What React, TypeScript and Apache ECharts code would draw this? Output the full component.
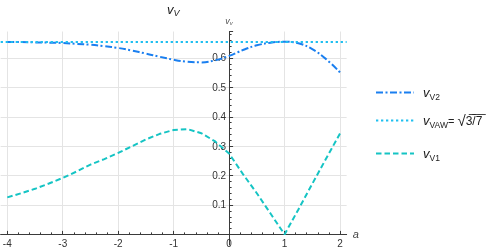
import React, { useEffect, useRef } from 'react';
import * as echarts from 'echarts';

// ---- data ----
const aValues = [-4, -3.75, -3.5, -3.25, -3, -2.75, -2.5, -2.25, -2, -1.75, -1.5, -1.25, -1, -0.75, -0.5, -0.25, 0, 0.25, 0.5, 0.75, 1, 1.25, 1.5, 1.75, 2];
const vV1 = [0.126, 0.14, 0.155, 0.173, 0.192, 0.214, 0.2375, 0.256, 0.277, 0.3, 0.323, 0.342, 0.355, 0.358, 0.344, 0.316, 0.275, 0.205, 0.14, 0.07, 0.0, 0.085, 0.172, 0.258, 0.343];
const vV2 = [0.654, 0.654, 0.653, 0.652, 0.651, 0.648, 0.645, 0.64, 0.634, 0.625, 0.615, 0.604, 0.594, 0.587, 0.585, 0.592, 0.607, 0.627, 0.643, 0.652, 0.655, 0.65, 0.63, 0.596, 0.551];
const vVAWValue = 0.6547;
const vVAWRange = [-4.12, 2.12];
const xTickLabels = ['-4', '-3', '-2', '-1', '0', '1', '2'];
const yTickLabels = ['0.1', '0.2', '0.3', '0.4', '0.5', '0.6'];

const FONT = 'Liberation Sans, Arial, sans-serif';
const C_V2 = '#1a7ff0';
const C_VAW = '#1ebff0';
const C_V1 = '#15c4c4';
const AXIS = '#3a3a3a';
const GRID = '#e4e4e4';

export default function App() {
  const ref = useRef<HTMLDivElement>(null);
  useEffect(() => {
    if (!ref.current) return;
    const chart = echarts.init(ref.current, null, { renderer: 'svg' });
    const gridTop = 31.5;
    const gridBottom = 15.6;
    const zeroX = 229.1;
    const subRich = {
      v: { fontFamily: FONT, fontSize: 13, fontStyle: 'italic', fontWeight: 'normal', color: '#222', verticalAlign: 'middle', lineHeight: 18 },
      s: { fontFamily: FONT, fontSize: 8.5, fontWeight: 'normal', color: '#222', verticalAlign: 'bottom', lineHeight: 18 },
      e: { fontFamily: FONT, fontSize: 11, fontWeight: 'normal', color: '#222', verticalAlign: 'middle', lineHeight: 18 },
      r: { fontFamily: FONT, fontSize: 15, fontWeight: 'normal', color: '#222', verticalAlign: 'middle', lineHeight: 18 },
      o: { fontFamily: FONT, fontSize: 12, fontWeight: 'normal', color: '#222', verticalAlign: 'middle', lineHeight: 18 },
    };
    const legendLabels: Record<string, string> = {
      vV2: '{v|v}{s|V2}',
      vVAW: '{v|v}{s|VAW}{e|= }{r|√}{o|3̅/̅7̅}',
      vV1: '{v|v}{s|V1}',
    };
    const legendBase = (name: string, top: number) => ({
      data: [name],
      orient: 'vertical',
      left: 375,
      top,
      itemWidth: 38,
      itemHeight: 12,
      padding: 0,
      selectedMode: false,
      itemStyle: { color: 'rgba(0,0,0,0)', borderWidth: 0, opacity: 0 },
      formatter: (n: string) => legendLabels[n],
      textStyle: { padding: [0, 0, 0, 4], rich: subRich },
    });
    const noBounds = { containLabel: false, outerBoundsMode: 'none' };
    const option: any = {
      animation: false,
      title: {
        text: '{v|v}{s|V}',
        left: 167,
        top: 1,
        padding: 0,
        textStyle: {
          fontWeight: 'normal',
          rich: {
            v: { fontFamily: FONT, fontSize: 13, fontStyle: 'italic', fontWeight: 'normal', color: '#222', verticalAlign: 'middle', lineHeight: 16 },
            s: { fontFamily: FONT, fontSize: 9, fontStyle: 'italic', fontWeight: 'normal', color: '#222', verticalAlign: 'bottom', lineHeight: 16 },
          },
        },
      },
      legend: [legendBase('vV2', 86), legendBase('vVAW', 113), legendBase('vV1', 147)],
      grid: [
        // 0: full plot range (axis line, horizontal grid lines, sqrt(3/7) line)
        { left: 0.65, right: 152.35, top: gridTop, bottom: gridBottom, ...noBounds },
        // 1: data range a in [-4, 2]
        { left: 7.3, right: 159, top: gridTop, bottom: gridBottom, ...noBounds },
        // 2: y-axis extension below zero
        { left: zeroX, right: 152.35, top: 234.4, bottom: 5, ...noBounds },
        // 3: y-axis with labels at a = 0
        { left: zeroX, right: 152.35, top: gridTop, bottom: gridBottom, ...noBounds },
      ],
      xAxis: [
        {
          gridIndex: 0, type: 'value', min: vVAWRange[0], max: vVAWRange[1],
          axisLine: { show: true, onZero: false, lineStyle: { color: AXIS, width: 1 } },
          axisTick: { show: false }, axisLabel: { show: false }, splitLine: { show: false },
          name: 'a', nameLocation: 'end', nameGap: 6,
          nameTextStyle: { fontFamily: FONT, fontSize: 11, fontStyle: 'italic', color: '#444', verticalAlign: 'middle' },
        },
        {
          gridIndex: 1, type: 'value', min: -4, max: 2, interval: 1,
          axisLine: { show: false },
          axisTick: { show: true, inside: true, length: 3.5, lineStyle: { color: AXIS } },
          minorTick: { show: true, splitNumber: 5, length: 2, lineStyle: { color: AXIS } },
          axisLabel: {
            fontFamily: FONT, fontSize: 10, color: '#333', margin: 4,
            formatter: (v: number) => xTickLabels[Math.round(v) + 4] ?? '',
          },
          splitLine: { show: true, lineStyle: { color: GRID, width: 1 } },
        },
        { gridIndex: 2, type: 'value', min: 0, max: 1, show: false },
        { gridIndex: 3, type: 'value', min: 0, max: 1, show: false },
      ],
      yAxis: [
        {
          gridIndex: 0, type: 'value', min: 0, max: 0.69, interval: 0.1,
          axisLine: { show: false }, axisTick: { show: false }, axisLabel: { show: false },
          splitLine: {
            show: true,
            lineStyle: { color: [GRID, GRID, GRID, GRID, GRID, GRID, GRID, 'rgba(0,0,0,0)'], width: 1 },
          },
        },
        { gridIndex: 1, type: 'value', min: 0, max: 0.69, show: false },
        {
          gridIndex: 2, type: 'value', min: -0.036, max: 0,
          axisLine: { show: true, onZero: false, lineStyle: { color: AXIS, width: 1 } },
          axisTick: { show: false }, axisLabel: { show: false }, splitLine: { show: false },
        },
        {
          gridIndex: 3, type: 'value', min: 0, max: 0.69, interval: 0.1,
          axisLine: { show: true, onZero: false, lineStyle: { color: AXIS, width: 1 } },
          axisTick: { show: true, inside: true, length: 4, lineStyle: { color: AXIS } },
          minorTick: { show: true, splitNumber: 5, length: 2.5, lineStyle: { color: AXIS } },
          axisLabel: {
            fontFamily: FONT, fontSize: 10, color: '#333', margin: 3,
            formatter: (v: number) => {
              const i = Math.round(v * 10) - 1;
              return Math.abs(v * 10 - Math.round(v * 10)) < 1e-6 && i >= 0 ? yTickLabels[i] ?? '' : '';
            },
          },
          splitLine: { show: false },
          name: '{v|v}{s|v}', nameLocation: 'end', nameGap: 6,
          nameTextStyle: {
            rich: {
              v: { fontFamily: FONT, fontSize: 9, fontStyle: 'italic', color: '#555', verticalAlign: 'middle', lineHeight: 10 },
              s: { fontFamily: FONT, fontSize: 6, fontStyle: 'italic', color: '#555', verticalAlign: 'bottom', lineHeight: 10 },
            },
          },
        },
      ],
      series: [
        {
          name: 'vV1', type: 'line', xAxisIndex: 1, yAxisIndex: 1,
          data: aValues.map((a, i) => [a, vV1[i]]),
          symbol: 'none', smooth: false,
          lineStyle: { color: C_V1, width: 2, type: [5.5, 3] },
          itemStyle: { color: C_V1 },
        },
        {
          name: 'vV2', type: 'line', xAxisIndex: 1, yAxisIndex: 1,
          data: aValues.map((a, i) => [a, vV2[i]]),
          symbol: 'none', smooth: 0.4,
          lineStyle: { color: C_V2, width: 2, type: [7, 2.5, 2, 2.5] },
          itemStyle: { color: C_V2 },
        },
        {
          name: 'vVAW', type: 'line', xAxisIndex: 0, yAxisIndex: 0,
          data: vVAWRange.map((a) => [a, vVAWValue]),
          symbol: 'none',
          lineStyle: { color: C_VAW, width: 2, type: [2.3, 2.7] },
          itemStyle: { color: C_VAW },
        },
      ],
    };
    chart.setOption(option);
    return () => chart.dispose();
  }, []);
  return <div ref={ref} style={{ position: 'fixed', left: 0, top: 0, width: 499, height: 250 }} />;
}
